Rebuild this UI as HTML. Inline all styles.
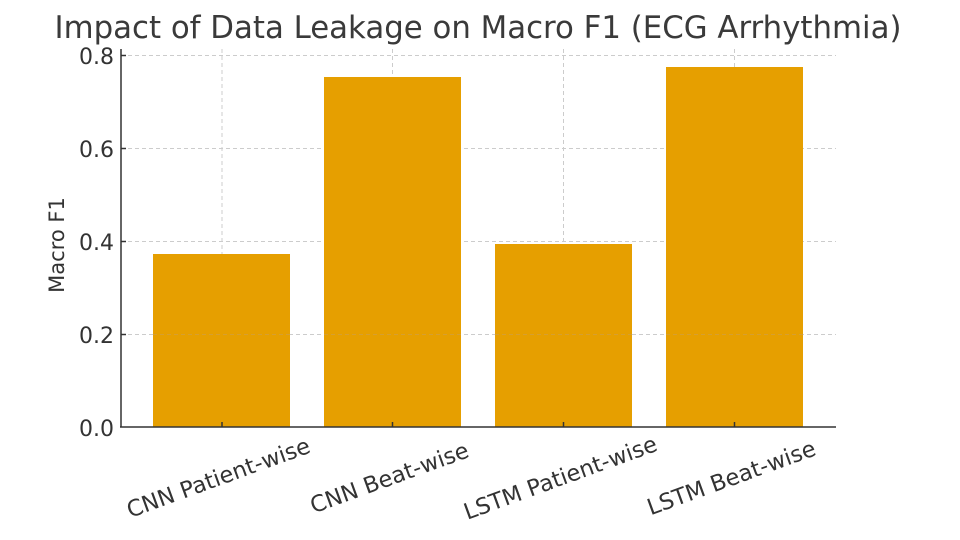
<!DOCTYPE html>
<html><head><meta charset="utf-8"><style>body{margin:0;background:#fff}svg{display:block}</style></head>
<body>
<svg width="960" height="540" xmlns="http://www.w3.org/2000/svg" font-family="DejaVu Sans, Liberation Sans, sans-serif" fill="#333">
<text x="478" y="38" font-size="30.8" text-anchor="middle" fill="#3a3a3a">Impact of Data Leakage on Macro F1 (ECG Arrhythmia)</text>
<g stroke="#cccccc" stroke-width="1" stroke-dasharray="4,3">
<line x1="121" x2="836" y1="55.5" y2="55.5"/>
<line x1="121" x2="836" y1="148.5" y2="148.5"/>
<line x1="121" x2="836" y1="241.5" y2="241.5"/>
<line x1="121" x2="836" y1="334.5" y2="334.5"/>
<line x1="222" x2="222" y1="49" y2="427"/>
<line x1="392.5" x2="392.5" y1="49" y2="427"/>
<line x1="563.5" x2="563.5" y1="49" y2="427"/>
<line x1="734.5" x2="734.5" y1="49" y2="427"/>
</g>
<g fill="#e69f00">
<rect x="153" y="254" width="137" height="173"/>
<rect x="324" y="77" width="137" height="350"/>
<rect x="495" y="244" width="137" height="183"/>
<rect x="666" y="67" width="137" height="360"/>
</g>
<g stroke="#c8a060" stroke-width="1" stroke-dasharray="4,3" opacity="0.5">
<line x1="153" x2="290" y1="334.5" y2="334.5"/>
<line x1="324" x2="461" y1="334.5" y2="334.5"/>
<line x1="495" x2="632" y1="334.5" y2="334.5"/>
<line x1="666" x2="803" y1="334.5" y2="334.5"/>
</g>
<g stroke="#333" stroke-width="1.5">
<line x1="121" y1="49" x2="121" y2="427"/>
<line x1="120" y1="427" x2="836" y2="427"/>
<line x1="121" x2="126" y1="55.5" y2="55.5"/>
<line x1="121" x2="126" y1="148.5" y2="148.5"/>
<line x1="121" x2="126" y1="241.5" y2="241.5"/>
<line x1="121" x2="126" y1="334.5" y2="334.5"/>
<line x1="222" x2="222" y1="427" y2="422"/>
<line x1="392.5" x2="392.5" y1="427" y2="422"/>
<line x1="563.5" x2="563.5" y1="427" y2="422"/>
<line x1="734.5" x2="734.5" y1="427" y2="422"/>
</g>
<g font-size="22" text-anchor="end" fill="#333">
<text x="114" y="64">0.8</text>
<text x="114" y="157">0.6</text>
<text x="114" y="250">0.4</text>
<text x="114" y="343">0.2</text>
<text x="114" y="436">0.0</text>
</g>
<text transform="translate(64,245) rotate(-90)" font-size="21" text-anchor="middle" fill="#333">Macro F1</text>
<g font-size="22.5" text-anchor="middle" fill="#333">
<text transform="translate(221,485) rotate(-20)">CNN Patient-wise</text>
<text transform="translate(392,485) rotate(-20)">CNN Beat-wise</text>
<text transform="translate(563,485) rotate(-20)">LSTM Patient-wise</text>
<text transform="translate(734,485) rotate(-20)">LSTM Beat-wise</text>
</g>
</svg>
</body></html>
